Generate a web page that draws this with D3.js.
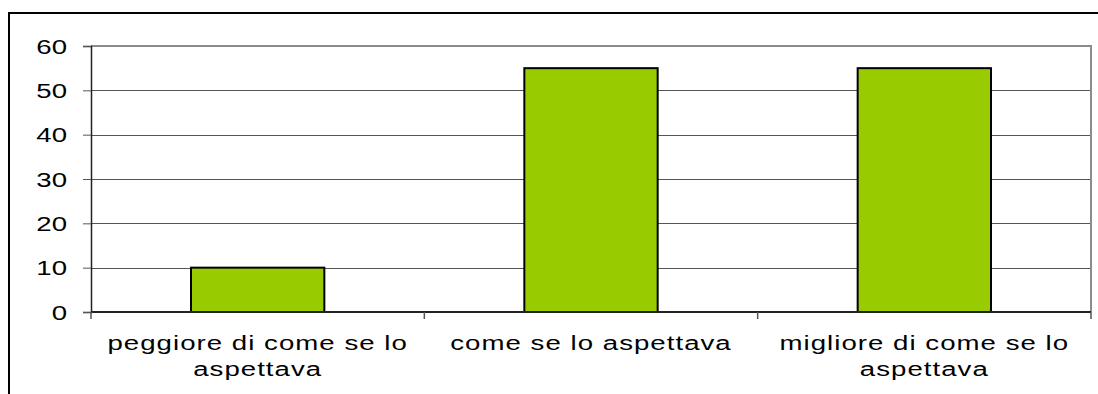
<!DOCTYPE html>
<html><head><meta charset="utf-8">
<script src="https://cdn.jsdelivr.net/npm/d3@7"></script>
<style>html,body{margin:0;padding:0;background:#fff;overflow:hidden}svg{display:block}</style>
</head><body><svg id="c" width="1098" height="394"></svg>
<script>
const categories = [["peggiore di come se lo","aspettava"],["come se lo aspettava"],["migliore di come se lo","aspettava"]];
const values = [10, 55, 55];
const yTicks = [0, 10, 20, 30, 40, 50, 60];

const svg = d3.select("#c");
const font = "'Liberation Sans', Arial, sans-serif";
const L = 91, R = 1091, T = 46, B = 312;
const SX = 1.38;

// outer frame
svg.append("rect").attr("x", 9).attr("y", 13).attr("width", 1100).attr("height", 400)
  .attr("fill", "none").attr("stroke", "#000").attr("stroke-width", 2);

const x = d3.scaleBand().domain(d3.range(categories.length)).range([L, R]).paddingInner(0).paddingOuter(0);
const y = d3.scaleLinear().domain([0, 60]).range([B, T]);

// gridlines
svg.append("g").selectAll("line").data(yTicks.filter(t => t > 0 && t < 60)).join("line")
  .attr("x1", L).attr("x2", R).attr("y1", d => Math.round(y(d)) + 0.5).attr("y2", d => Math.round(y(d)) + 0.5)
  .attr("stroke", "#555").attr("stroke-width", 1);

// plot border top/right gray
svg.append("path").attr("d", `M${L},${T}H${R}V${B}`).attr("fill", "none").attr("stroke", "#8c8c8c").attr("stroke-width", 2);

// bars
const bw = x.bandwidth() * 0.4;
svg.append("g").selectAll("rect").data(values).join("rect")
  .attr("x", (d, i) => x(i) + (x.bandwidth() - bw) / 2)
  .attr("y", d => y(d))
  .attr("width", bw)
  .attr("height", d => y(0) - y(d))
  .attr("fill", "#99cc00").attr("stroke", "#000").attr("stroke-width", 2);

// y axis
const ya = svg.append("g").attr("transform", `translate(${L},0)`)
  .call(d3.axisLeft(y).tickValues(yTicks).tickSize(8).tickPadding(0));
ya.select(".domain").attr("stroke", "#222").attr("stroke-width", 1.5);
ya.selectAll(".tick line").attr("stroke", "#555");
ya.selectAll(".tick text")
  .attr("x", null).attr("dy", null)
  .attr("font-family", font).attr("font-size", 20).attr("fill", "#000")
  .attr("dominant-baseline", "central")
  .attr("transform", `translate(-24,0) scale(${SX},1)`);

// x axis
const xa = svg.append("g").attr("transform", `translate(0,${B})`);
xa.append("line").attr("x1", L).attr("x2", R).attr("y1", 0).attr("y2", 0).attr("stroke", "#222").attr("stroke-width", 2);
xa.selectAll(".tk").data(d3.range(categories.length + 1)).join("line").attr("class", "tk")
  .attr("x1", i => L + i * x.bandwidth()).attr("x2", i => L + i * x.bandwidth())
  .attr("y1", 0).attr("y2", 7).attr("stroke", "#555").attr("stroke-width", 1.5);

const lbl = svg.append("g").selectAll("text").data(categories).join("text")
  .attr("text-anchor", "middle").attr("font-family", font).attr("font-size", 20).attr("fill", "#000")
  .attr("letter-spacing", 0.75)
  .attr("transform", (d, i) => `translate(${x(i) + x.bandwidth() / 2},350) scale(${SX},1)`);
lbl.selectAll("tspan").data(d => d).join("tspan").attr("x", 0).attr("dy", (d, j) => j ? 26 : 0).text(d => d);
</script></body></html>
